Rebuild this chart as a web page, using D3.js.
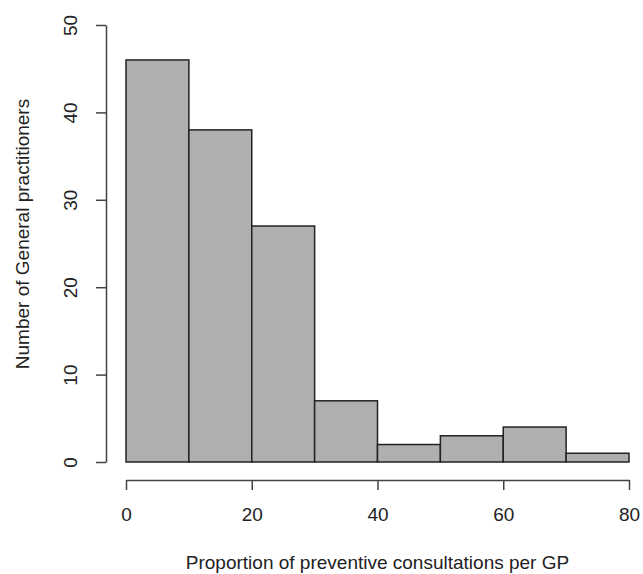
<!DOCTYPE html>
<html>
<head>
<meta charset="utf-8">
<script src="https://cdn.jsdelivr.net/npm/d3@7"></script>
<style>
  body { margin: 0; background: #fff; }
  text { font-family: "Liberation Sans", Arial, sans-serif; fill: #222; }
</style>
</head>
<body>
<div id="vis"></div>
<script>
// histogram bins and counts
const BIN_STARTS = [0, 10, 20, 30, 40, 50, 60, 70];
const BIN_WIDTH = 10;
const COUNTS = [46, 38, 27, 7, 2, 3, 4, 1];
const X_TICKS = [0, 20, 40, 60, 80];
const Y_TICKS = [0, 10, 20, 30, 40, 50];

const FRAME_WIDTH = 643;
const FRAME_HEIGHT = 574;

const FRAME = d3.select("#vis")
  .append("svg")
    .attr("width", FRAME_WIDTH)
    .attr("height", FRAME_HEIGHT);

const X_SCALE = d3.scaleLinear().domain([0, 80]).range([126, 629]);
const Y_SCALE = d3.scaleLinear().domain([0, 50]).range([462, 25]);

const data = BIN_STARTS.map((s, i) => ({ x0: s, x1: s + BIN_WIDTH, n: COUNTS[i] }));

// bars
FRAME.selectAll("rect.bar")
  .data(data)
  .enter()
  .append("rect")
    .attr("class", "bar")
    .attr("x", d => X_SCALE(d.x0))
    .attr("y", d => Y_SCALE(d.n))
    .attr("width", d => X_SCALE(d.x1) - X_SCALE(d.x0))
    .attr("height", d => Y_SCALE(0) - Y_SCALE(d.n))
    .attr("fill", "#afafaf")
    .attr("stroke", "#222")
    .attr("stroke-width", 1.5);

// x axis, R style (detached below the bars)
const xAxis = FRAME.append("g")
  .attr("transform", "translate(0,480)")
  .call(d3.axisBottom(X_SCALE).tickValues(X_TICKS).tickSize(10).tickPadding(18).tickSizeOuter(0));
xAxis.select(".domain").attr("stroke", "#444").attr("stroke-width", 1.5);
xAxis.selectAll(".tick line").attr("stroke", "#444").attr("stroke-width", 1.5);
xAxis.selectAll(".tick text")
  .attr("font-size", "19px")
  .attr("font-family", "Liberation Sans, Arial, sans-serif")
  .attr("fill", "#222");

// y axis, labels rotated
const yAxis = FRAME.append("g")
  .attr("transform", "translate(106,0)")
  .call(d3.axisLeft(Y_SCALE).tickValues(Y_TICKS).tickSize(10).tickSizeOuter(0));
yAxis.select(".domain").attr("stroke", "#444").attr("stroke-width", 1.5);
yAxis.selectAll(".tick line").attr("stroke", "#444").attr("stroke-width", 1.5);
yAxis.selectAll(".tick text")
  .attr("x", null).attr("dy", null)
  .attr("transform", "translate(-29,0) rotate(-90)")
  .attr("text-anchor", "middle")
  .attr("font-size", "19px")
  .attr("font-family", "Liberation Sans, Arial, sans-serif")
  .attr("fill", "#222");

// axis titles
FRAME.append("text")
  .attr("x", 377.5)
  .attr("y", 569)
  .attr("text-anchor", "middle")
  .attr("font-size", "19px")
  .text("Proportion of preventive consultations per GP");

FRAME.append("text")
  .attr("transform", "translate(29,234) rotate(-90)")
  .attr("text-anchor", "middle")
  .attr("font-size", "19px")
  .text("Number of General practitioners");
</script>
</body>
</html>
